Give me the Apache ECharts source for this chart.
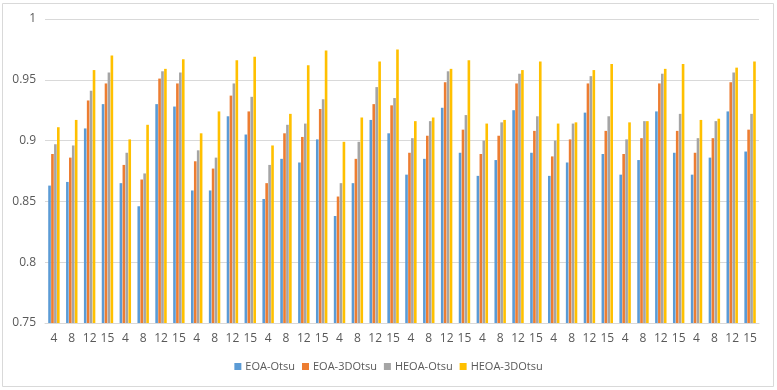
<!DOCTYPE html>
<html>
<head>
<meta charset="utf-8">
<script src="https://cdn.jsdelivr.net/npm/echarts@6/dist/echarts.min.js"></script>
<style>
  html, body { margin: 0; padding: 0; background: #fff; }
  #chart { width: 777px; height: 390px; }
</style>
</head>
<body>
<div id="chart"></div>
<script>
// 10 groups of thresholds 4 / 8 / 12 / 15
var thresholds = ['4', '8', '12', '15']
var categories = []
for (var g = 0; g < 10; g++) categories = categories.concat(thresholds)

var eoaOtsu = [
  0.863, 0.866, 0.910, 0.930, 0.865, 0.846, 0.930, 0.928, 0.859, 0.859,
  0.920, 0.905, 0.852, 0.885, 0.882, 0.901, 0.838, 0.865, 0.917, 0.906,
  0.872, 0.885, 0.927, 0.890, 0.871, 0.884, 0.925, 0.890, 0.871, 0.882,
  0.923, 0.889, 0.872, 0.884, 0.924, 0.890, 0.872, 0.886, 0.924, 0.891
]
var eoa3D = [
  0.889, 0.886, 0.933, 0.947, 0.880, 0.868, 0.951, 0.947, 0.883, 0.877,
  0.937, 0.924, 0.865, 0.906, 0.903, 0.926, 0.854, 0.885, 0.930, 0.929,
  0.890, 0.904, 0.948, 0.909, 0.889, 0.904, 0.947, 0.908, 0.887, 0.901,
  0.947, 0.908, 0.889, 0.902, 0.947, 0.908, 0.890, 0.902, 0.948, 0.909
]
var heoaOtsu = [
  0.897, 0.896, 0.941, 0.956, 0.890, 0.873, 0.957, 0.956, 0.892, 0.886,
  0.947, 0.936, 0.880, 0.913, 0.914, 0.934, 0.865, 0.899, 0.944, 0.935,
  0.902, 0.916, 0.957, 0.921, 0.900, 0.915, 0.955, 0.920, 0.900, 0.914,
  0.953, 0.920, 0.901, 0.916, 0.955, 0.922, 0.902, 0.916, 0.956, 0.922
]
var heoa3D = [
  0.911, 0.917, 0.958, 0.970, 0.901, 0.913, 0.959, 0.967, 0.906, 0.924,
  0.966, 0.969, 0.896, 0.922, 0.962, 0.974, 0.899, 0.919, 0.965, 0.975,
  0.916, 0.919, 0.959, 0.966, 0.914, 0.917, 0.958, 0.965, 0.914, 0.915,
  0.958, 0.963, 0.915, 0.916, 0.959, 0.963, 0.917, 0.918, 0.960, 0.965
]

var textColor = '#595959'
var fontFamily = 'Open Sans, Liberation Sans, sans-serif'

function bar (name, data, color) {
  return {
    name: name,
    type: 'bar',
    data: data,
    itemStyle: { color: color },
    barGap: '12%',
    barCategoryGap: '36%'
  }
}

var chart = echarts.init(document.getElementById('chart'))
var option = {
  animation: false,
  textStyle: { fontFamily: fontFamily },
  graphic: [{
    type: 'rect',
    shape: { x: 2.5, y: 3.5, width: 771, height: 383 },
    style: { fill: 'none', stroke: '#d9d9d9', lineWidth: 1 },
    silent: true,
    z: -10
  }],
  grid: { left: 45, right: 18, top: 19, bottom: 67 },
  legend: {
    bottom: 13,
    left: 'center',
    itemWidth: 7,
    itemHeight: 7,
    itemGap: 7,
    icon: 'rect',
    textStyle: { color: textColor, fontSize: 11, fontFamily: fontFamily, padding: [0, 0, 0, -1] }
  },
  xAxis: {
    type: 'category',
    data: categories,
    axisLine: { lineStyle: { color: '#d9d9d9' } },
    axisTick: { show: false },
    axisLabel: { interval: 0, color: textColor, fontSize: 12, margin: 10 }
  },
  yAxis: {
    type: 'value',
    min: 0.75,
    max: 1,
    interval: 0.05,
    axisLine: { show: false },
    axisTick: { show: false },
    axisLabel: { color: textColor, fontSize: 12, margin: 9 },
    splitLine: { lineStyle: { color: '#d9d9d9' } }
  },
  series: [
    bar('EOA-Otsu', eoaOtsu, '#5b9bd5'),
    bar('EOA-3DOtsu', eoa3D, '#ed7d31'),
    bar('HEOA-Otsu', heoaOtsu, '#a5a5a5'),
    bar('HEOA-3DOtsu', heoa3D, '#ffc000')
  ]
}
chart.setOption(option)
</script>
</body>
</html>
